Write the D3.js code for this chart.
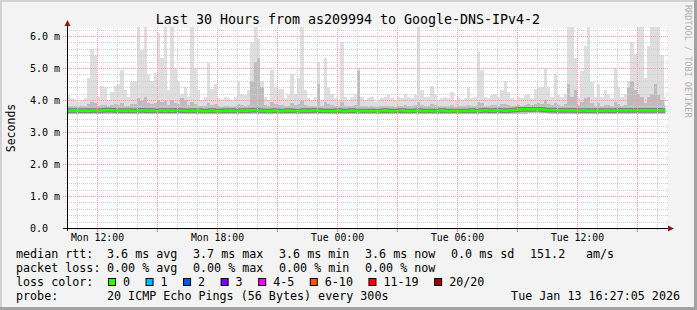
<!DOCTYPE html>
<html>
<head>
<meta charset="utf-8">
<script src="https://cdn.jsdelivr.net/npm/d3@7"></script>
<style>
  body { margin: 0; background: #f3f3f3; }
  svg { display: block; }
  text { font-family: "DejaVu Sans Mono", monospace; fill: #000; }
</style>
</head>
<body>
<div class="canvas"></div>
<script>
// time window (10 minute slots from Mon 10:30 to Tue 16:30)
const startTime = new Date(2026, 0, 12, 10, 30)
const endTime = new Date(2026, 0, 13, 16, 30)
const lastSample = new Date(2026, 0, 13, 16, 25)
const stepMinutes = 10

// median rtt (ms), one row per hour
const rttMedian = [
    3.66, 3.67, 3.66, 3.67, 3.66, 3.67,
    3.66, 3.67, 3.67, 3.66, 3.67, 3.68,
    3.69, 3.68, 3.67, 3.66, 3.67, 3.66,
    3.67, 3.66, 3.66, 3.67, 3.68, 3.67,
    3.66, 3.67, 3.66, 3.66, 3.67, 3.66,
    3.67, 3.66, 3.67, 3.68, 3.67, 3.66,
    3.66, 3.67, 3.66, 3.67, 3.66, 3.65,
    3.66, 3.67, 3.66, 3.65, 3.66, 3.67,
    3.66, 3.67, 3.66, 3.66, 3.67, 3.66,
    3.67, 3.68, 3.69, 3.67, 3.66, 3.66,
    3.65, 3.66, 3.67, 3.66, 3.65, 3.66,
    3.67, 3.66, 3.66, 3.65, 3.66, 3.67,
    3.66, 3.67, 3.68, 3.67, 3.66, 3.66,
    3.66, 3.65, 3.66, 3.67, 3.66, 3.65,
    3.66, 3.67, 3.66, 3.65, 3.66, 3.66,
    3.65, 3.66, 3.66, 3.65, 3.66, 3.67,
    3.66, 3.65, 3.66, 3.66, 3.67, 3.66,
    3.65, 3.66, 3.66, 3.67, 3.66, 3.65,
    3.66, 3.66, 3.65, 3.66, 3.67, 3.66,
    3.65, 3.66, 3.66, 3.65, 3.66, 3.66,
    3.66, 3.67, 3.66, 3.66, 3.67, 3.68,
    3.67, 3.66, 3.67, 3.68, 3.67, 3.66,
    3.67, 3.68, 3.69, 3.70, 3.71, 3.70,
    3.71, 3.70, 3.72, 3.71, 3.70, 3.69,
    3.68, 3.69, 3.68, 3.67, 3.68, 3.67,
    3.67, 3.68, 3.67, 3.66, 3.67, 3.67,
    3.66, 3.67, 3.66, 3.67, 3.66, 3.67,
    3.67, 3.66, 3.67, 3.68, 3.67, 3.67,
    3.68, 3.67, 3.67, 3.68, 3.67, 3.68,
    3.67, 3.68, 3.67, 3.68, 3.67, 3.67
]

// top of the dense (darker) smoke, ms
const rttDark = [
    3.82, 3.80, 3.81, 3.79, 3.80, 3.82,
    3.88, 3.95, 3.92, 3.82, 3.85, 3.84,
    3.80, 3.83, 3.86, 3.84, 3.90, 3.82,
    3.81, 3.86, 3.88, 4.05, 3.98, 4.10,
    3.92, 3.88, 3.90, 4.00, 3.95, 3.98,
    3.85, 4.00, 3.92, 3.88, 4.05, 4.00,
    3.84, 3.95, 3.88, 3.82, 3.80, 3.81,
    3.92, 3.84, 3.86, 3.80, 3.79, 3.81,
    3.80, 3.79, 3.81, 3.88, 3.83, 3.82,
    3.85, 4.60, 5.20, 5.30, 4.40, 3.85,
    3.80, 3.95, 3.86, 3.85, 3.84, 3.80,
    3.82, 3.90, 3.83, 3.88, 3.98, 3.84,
    3.81, 3.80, 3.82, 4.50, 3.80, 3.95,
    3.86, 3.83, 3.80, 3.79, 3.95, 3.82,
    3.80, 3.82, 3.84, 4.90, 3.82, 3.80,
    3.79, 3.81, 3.78, 3.79, 3.80, 3.81,
    3.82, 3.80, 3.79, 3.81, 3.80, 3.83,
    3.82, 3.80, 3.83, 3.95, 3.85, 3.81,
    3.81, 3.88, 3.84, 3.80, 3.80, 3.81,
    3.80, 3.84, 3.79, 3.81, 3.80, 3.80,
    3.85, 3.80, 3.81, 3.95, 3.90, 3.82,
    3.80, 3.83, 3.84, 3.82, 3.86, 3.88,
    3.84, 3.82, 3.81, 3.83, 3.82, 3.85,
    3.86, 3.83, 3.88, 3.90, 3.88, 4.00,
    3.88, 3.83, 3.92, 3.84, 3.82, 3.86,
    4.50, 4.10, 4.30, 3.84, 3.95, 4.05,
    4.10, 3.90, 3.82, 3.90, 3.82, 3.85,
    3.84, 3.81, 3.95, 3.86, 3.82, 3.84,
    4.40, 4.60, 4.30, 4.20, 4.10, 3.92,
    4.10, 4.20, 4.50, 4.15, 4.00, 3.85
]

// slowest ping of each slot, ms
const rttMax = [
    4.15, 4.05, 4.00, 3.95, 4.00, 4.05,
    4.70, 5.60, 5.40, 4.10, 4.45, 4.40,
    4.00, 4.25, 4.45, 4.50, 4.95, 4.30,
    4.10, 4.55, 4.60, 6.30, 5.55, 6.30,
    4.80, 4.60, 4.85, 6.10, 5.30, 6.30,
    4.30, 6.30, 5.00, 4.60, 4.20, 4.40,
    4.10, 6.30, 5.00, 4.30, 4.00, 4.10,
    5.15, 4.35, 4.50, 4.05, 4.00, 4.10,
    4.05, 4.00, 4.10, 4.55, 4.20, 4.15,
    4.30, 5.80, 6.30, 5.90, 4.60, 4.10,
    4.00, 4.95, 4.40, 4.35, 4.35, 4.05,
    4.15, 4.80, 4.20, 4.70, 6.30, 4.30,
    4.05, 4.00, 4.10, 5.20, 4.00, 5.30,
    4.40, 4.20, 4.05, 4.00, 5.80, 4.10,
    4.00, 4.10, 4.20, 5.00, 4.10, 4.00,
    4.05, 4.10, 3.95, 4.00, 4.05, 4.10,
    4.15, 4.05, 4.00, 4.10, 4.05, 4.20,
    4.10, 4.05, 4.15, 6.30, 4.30, 4.10,
    4.10, 4.45, 4.20, 4.00, 4.05, 4.10,
    4.05, 4.25, 4.00, 4.10, 4.00, 4.05,
    4.40, 4.05, 4.10, 5.50, 4.95, 4.10,
    4.05, 4.15, 4.20, 4.10, 4.30, 4.60,
    4.25, 4.05, 4.00, 4.10, 4.05, 4.15,
    4.20, 4.05, 4.35, 4.40, 4.40, 5.00,
    4.40, 4.10, 4.80, 4.15, 4.10, 4.20,
    6.30, 6.30, 5.30, 4.10, 4.90, 5.70,
    6.30, 4.55, 4.10, 4.50, 4.10, 4.30,
    4.15, 4.05, 5.00, 4.40, 4.10, 4.20,
    4.60, 5.80, 5.45, 6.30, 6.30, 4.70,
    5.70, 6.30, 6.30, 6.30, 5.40, 4.10
]

// fastest ping, one value per hour, ms
const rttMinHourly = [
    3.56, 3.56, 3.57, 3.56, 3.56, 3.57, 3.56, 3.56, 3.56, 3.55,
    3.56, 3.56, 3.55, 3.55, 3.56, 3.55, 3.55, 3.56, 3.55, 3.55,
    3.56, 3.56, 3.57, 3.58, 3.57, 3.56, 3.56, 3.56, 3.57, 3.57
]

const yTicks = [0, 1, 2, 3, 4, 5, 6]
const lossLabels = ['0', '1', '2', '3', '4-5', '6-10', '11-19', '20/20']
const lossColors = ['#26ff00', '#00b8ff', '#0059ff', '#7e00ff', '#ff00ff', '#ff5500', '#ff0000', '#a10000']
const rttStats = ['3.6 ms avg', '3.7 ms max', '3.6 ms min', '3.6 ms now', '0.0 ms sd']
const lossStats = ['0.00 % avg', '0.00 % max', '0.00 % min', '0.00 % now']

const W = 697, H = 310
const svg = d3.select('.canvas').append('svg').attr('width', W).attr('height', H)

const plot = { left: 67, right: 667, top: 28, bottom: 228 }

const x = d3.scaleTime().domain([startTime, endTime]).range([plot.left, plot.right])
const y = d3.scaleLinear().domain([0, 6.25]).range([plot.bottom, plot.top])

// canvas + frame
svg.append('rect').attr('width', W).attr('height', H).attr('fill', '#f3f3f3')
svg.append('rect').attr('x', 0).attr('y', 0).attr('width', W).attr('height', 2).attr('fill', '#d2d2d2')
svg.append('rect').attr('x', 0).attr('y', 0).attr('width', 2).attr('height', H).attr('fill', '#d2d2d2')
svg.append('rect').attr('x', 0).attr('y', H - 3).attr('width', W).attr('height', 3).attr('fill', '#a2a2a2')
svg.append('rect').attr('x', W - 3).attr('y', 0).attr('width', 3).attr('height', H).attr('fill', '#a2a2a2')

svg.append('rect')
    .attr('x', plot.left).attr('y', plot.top)
    .attr('width', plot.right - plot.left).attr('height', plot.bottom - plot.top)
    .attr('fill', '#ffffff')

svg.append('clipPath').attr('id', 'clip').append('rect')
    .attr('x', plot.left).attr('y', plot.top - 1)
    .attr('width', plot.right - plot.left).attr('height', plot.bottom - plot.top + 1)

// build slots
const slots = rttMedian.map((m, i) => {
    const t0 = d3.timeMinute.offset(startTime, i * stepMinutes)
    const t1 = i === rttMedian.length - 1 ? lastSample : d3.timeMinute.offset(startTime, (i + 1) * stepMinutes)
    return { t0, t1, median: m, dark: rttDark[i], max: rttMax[i], min: rttMinHourly[Math.floor(i / 6)] }
})

const graph = svg.append('g').attr('clip-path', 'url(#clip)')

// smoke
const layer = (top, fill) => {
    graph.append('g').selectAll('rect').data(slots).enter().append('rect')
        .attr('shape-rendering', 'crispEdges')
        .attr('x', d => x(d.t0))
        .attr('width', d => x(d.t1) - x(d.t0))
        .attr('y', d => y(top(d)))
        .attr('height', d => y(d.min) - y(top(d)))
        .attr('fill', fill)
}
layer(d => d.max, '#dedede')
layer(d => d.dark, '#bdbdbd')

// grid (drawn over the smoke, like rrdtool)
const grid = svg.append('g')
const minorY = d3.range(1, 32).map(v => v / 5).filter(v => v % 1 !== 0)
const majorY = yTicks.filter(v => v > 0)
const hours = d3.timeHour.range(d3.timeMinute.offset(startTime, 1), endTime)
const minorX = hours.filter(d => d.getHours() % 3 !== 0)
const majorX = hours.filter(d => d.getHours() % 3 === 0)
const labelX = hours.filter(d => d.getHours() % 6 === 0)

grid.selectAll('line.hminor').data(minorY).enter().append('line')
    .attr('x1', plot.left - 2).attr('x2', plot.right + 2)
    .attr('y1', d => Math.round(y(d)) + 0.5).attr('y2', d => Math.round(y(d)) + 0.5)
    .attr('stroke', '#cfcfcf').attr('stroke-dasharray', '1,1')
grid.selectAll('line.vminor').data(minorX).enter().append('line')
    .attr('x1', d => Math.round(x(d)) + 0.5).attr('x2', d => Math.round(x(d)) + 0.5)
    .attr('y1', plot.top).attr('y2', plot.bottom)
    .attr('stroke', '#cfcfcf').attr('stroke-dasharray', '1,1')
grid.selectAll('line.hmajor').data(majorY).enter().append('line')
    .attr('x1', plot.left - 4).attr('x2', plot.right + 2)
    .attr('y1', d => Math.round(y(d)) + 0.5).attr('y2', d => Math.round(y(d)) + 0.5)
    .attr('stroke', '#f39a9a').attr('stroke-dasharray', '1,1')
grid.selectAll('line.vmajor').data(majorX).enter().append('line')
    .attr('x1', d => Math.round(x(d)) + 0.5).attr('x2', d => Math.round(x(d)) + 0.5)
    .attr('y1', plot.top).attr('y2', plot.bottom)
    .attr('stroke', '#f39a9a').attr('stroke-dasharray', '1,1')

// small ticks under the time axis
grid.selectAll('line.tminor').data(minorX).enter().append('line')
    .attr('x1', d => Math.round(x(d)) + 0.5).attr('x2', d => Math.round(x(d)) + 0.5)
    .attr('y1', plot.bottom).attr('y2', plot.bottom + 2)
    .attr('stroke', '#bdbdbd')
grid.selectAll('line.tmajor').data(majorX).enter().append('line')
    .attr('x1', d => Math.round(x(d)) + 0.5).attr('x2', d => Math.round(x(d)) + 0.5)
    .attr('y1', plot.bottom).attr('y2', plot.bottom + 4)
    .attr('stroke', '#f08080')

// median line, dark core smoke under the loss-coloured line
const medLine = d3.line()
    .x(d => x(d.t))
    .y(d => y(d.v))
    .curve(d3.curveStepAfter)
const medPts = slots.map(d => ({ t: d.t0, v: d.median }))
medPts.push({ t: lastSample, v: rttMedian[rttMedian.length - 1] })

graph.append('path').datum(medPts).attr('d', medLine)
    .attr('fill', 'none').attr('stroke', '#7a7a7a').attr('stroke-width', 4.5)
graph.append('path').datum(medPts).attr('d', medLine)
    .attr('fill', 'none').attr('stroke', lossColors[0]).attr('stroke-width', 2.5)

// axes
const yAxis = d3.axisLeft(y).tickValues(yTicks).tickSize(0)
    .tickFormat(d => d === 0 ? '0.0' : d.toFixed(1) + ' m')
const yAxisGroup = svg.append('g').attr('transform', `translate(${plot.left}, 0)`).call(yAxis)
yAxisGroup.select('.domain').remove()
yAxisGroup.selectAll('text')
    .attr('x', 30 - plot.left).attr('dy', null)
    .attr('dominant-baseline', 'central')
    .attr('text-anchor', 'start')
    .style('font-family', '"DejaVu Sans Mono", monospace')
    .style('font-size', '10px')
    .attr('fill', '#000')

const xAxis = d3.axisBottom(x).tickValues(labelX).tickSize(0)
    .tickFormat(d3.timeFormat('%a %H:%M'))
const xAxisGroup = svg.append('g').attr('transform', `translate(0, ${plot.bottom})`).call(xAxis)
xAxisGroup.select('.domain').remove()
xAxisGroup.selectAll('text')
    .attr('y', 9.7).attr('dy', null)
    .attr('dominant-baseline', 'central')
    .style('font-family', '"DejaVu Sans Mono", monospace')
    .style('font-size', '9.8px')
    .attr('fill', '#000')

// axis lines + arrows
svg.append('line').attr('x1', plot.left - 4).attr('x2', plot.right + 1)
    .attr('y1', plot.bottom + 0.5).attr('y2', plot.bottom + 0.5).attr('stroke', '#000')
svg.append('line').attr('x1', plot.left + 0.5).attr('x2', plot.left + 0.5)
    .attr('y1', plot.bottom + 3).attr('y2', plot.top - 3).attr('stroke', '#000')
svg.append('path').attr('d', `M${plot.left - 2.5},${plot.top - 2}L${plot.left + 3.5},${plot.top - 2}L${plot.left + 0.5},${plot.top - 8}Z`)
    .attr('fill', '#8b1c1c')
svg.append('path').attr('d', `M${plot.right + 1},${plot.bottom - 2.5}L${plot.right + 1},${plot.bottom + 3.5}L${plot.right + 7},${plot.bottom + 0.5}Z`)
    .attr('fill', '#8b1c1c')

// title + labels
svg.append('text').attr('x', 348).attr('y', 19.5)
    .attr('text-anchor', 'middle').attr('dominant-baseline', 'central')
    .style('font-size', '13.3px')
    .text('Last 30 Hours from as209994 to Google-DNS-IPv4-2')

svg.append('text').attr('transform', `translate(11, ${(plot.top + plot.bottom) / 2}) rotate(-90)`)
    .attr('text-anchor', 'middle').attr('dominant-baseline', 'central')
    .style('font-size', '11.5px')
    .text('Seconds')

svg.append('text').attr('transform', 'translate(688, 5) rotate(90)')
    .attr('dominant-baseline', 'central')
    .style('font-size', '8.5px').style('fill', '#b0b0b0')
    .text('RRDTOOL / TOBI OETIKER')

// legend
const legend = svg.append('g').style('font-size', '11.7px')
const row = (yy, items) => items.forEach(([xx, t]) => {
    legend.append('text').attr('x', xx).attr('y', yy)
        .attr('dominant-baseline', 'central').text(t)
})
const statX = [107, 193, 279, 365, 451]
row(254.3, [[16, 'median rtt:']].concat(rttStats.map((t, i) => [statX[i], t]))
    .concat([[530, '151.2'], [586, 'am/s']]))
row(268.3, [[16, 'packet loss:']].concat(lossStats.map((t, i) => [statX[i], t])))
row(282.3, [[16, 'loss color:']])
row(296.3, [[16, 'probe:'], [107, '20 ICMP Echo Pings (56 Bytes) every 300s']])
legend.append('text').attr('x', 680).attr('y', 296.3)
    .attr('text-anchor', 'end').attr('dominant-baseline', 'central')
    .text('Tue Jan 13 16:27:05 2026')

const charW = 7.04
let cursor = 108
lossLabels.forEach((lab, i) => {
    legend.append('rect').attr('x', cursor + 0.5).attr('y', 278.5)
        .attr('width', 7).attr('height', 7)
        .attr('fill', lossColors[i]).attr('stroke', '#000')
    legend.append('text').attr('x', cursor + 15).attr('y', 282.3)
        .attr('dominant-baseline', 'central').text(lab)
    cursor += 15 + lab.length * charW + 15.5
})
</script>
</body>
</html>
